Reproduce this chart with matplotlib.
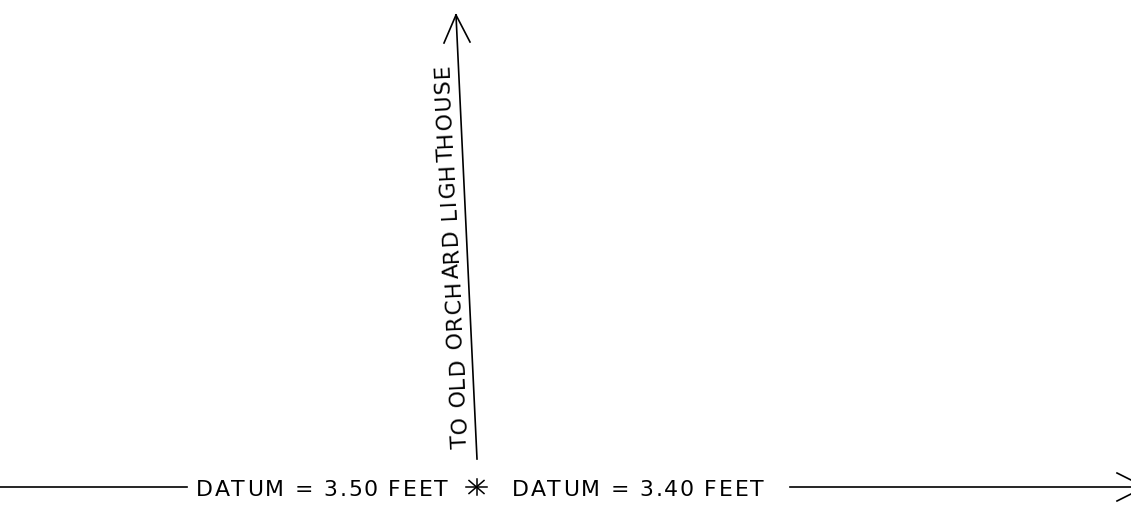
import numpy as np
import matplotlib
matplotlib.use('Agg')
import matplotlib.pyplot as plt
from matplotlib.font_manager import FontProperties, findfont
from matplotlib.ft2font import FT2Font

# drawing geometry in pixel units (y down)
base_y = 487
left_line = [0, 187]
right_line = [790, 1145]
right_tip_barbs = [(1117, 473), (1117, 501)]
north_line = [(456, 15), (477, 459)]
north_barbs = [(444, 43), (470, 42)]
star_xy = (476.5, 487)

left_label = 'DATUM = 3.50 FEET'
right_label = 'DATUM = 3.40 FEET'
north_label = 'TO OLD ORCHARD LIGHTHOUSE'

fs = 15.8
tracking = 1.8   # extra px between letters, the CAD lettering is spaced out
prop = FontProperties(family='DejaVu Sans', size=fs)
ft = FT2Font(findfont(prop))
ft.set_size(fs, 100)


def advance(c):
    g = ft.load_char(ord(c))
    return g.linearHoriAdvance / 65536.0


def spaced_text(ax, s, x, y, angle=0.0, track=tracking):
    # x, y: start of baseline in pixels (y down)
    a = np.deg2rad(angle)
    ux, uy = np.cos(a), -np.sin(a)
    pen = 0.0
    for c in s:
        w = advance(c)
        cx = x + ux * (pen + w / 2)
        cy = y + uy * (pen + w / 2)
        if c != ' ':
            ax.text(cx, cy, c, fontproperties=prop, ha='center', va='baseline',
                    rotation=angle, rotation_mode='anchor', color='k')
        pen += w + track


fig = plt.figure(figsize=(11.31, 5.19), dpi=100)
ax = fig.add_axes([0, 0, 1, 1])
ax.set_xlim(0, 1131)
ax.set_ylim(519, 0)
ax.axis('off')

lw = 1.2
# horizontal line pieces
ax.plot(left_line, [base_y, base_y], color='k', lw=lw)
ax.plot(right_line, [base_y, base_y], color='k', lw=lw)
for bx, by in right_tip_barbs:
    ax.plot([bx, right_line[1]], [by, base_y], color='k', lw=lw)

# north arrow
(x0, y0), (x1, y1) = north_line
ax.plot([x0, x1], [y0, y1], color='k', lw=lw)
for bx, by in north_barbs:
    ax.plot([bx, x0], [by, y0], color='k', lw=lw)

# benchmark star
sx, sy = star_xy
for dx, dy in [(10.5, 0), (0, 8), (7.5, 6.5), (7.5, -6.5)]:
    ax.plot([sx - dx, sx + dx], [sy - dy, sy + dy], color='k', lw=1.1)

spaced_text(ax, left_label, 196, 496)
spaced_text(ax, right_label, 512, 496)
spaced_text(ax, north_label, 467, 448, angle=92.8, track=1.3)

fig.savefig('out.png', dpi=100)
